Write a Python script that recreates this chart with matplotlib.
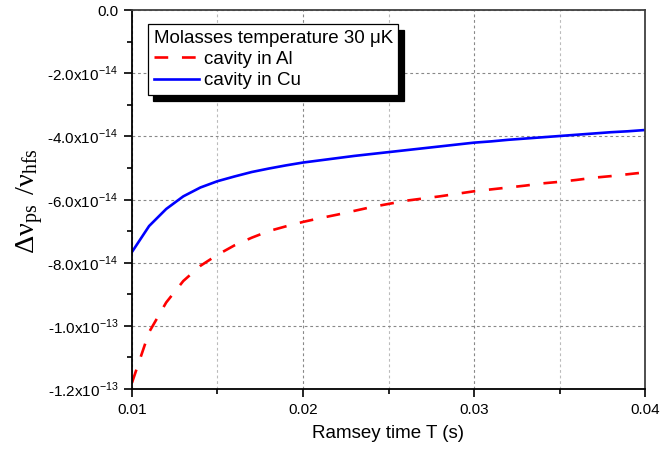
import matplotlib
matplotlib.use('Agg')
import math
import matplotlib.pyplot as plt
from matplotlib.ticker import FixedLocator, FuncFormatter

plt.rcParams['font.family'] = ['Liberation Sans', 'DejaVu Sans']

# Ramsey time T (s)
T = [0.010, 0.011, 0.012, 0.013, 0.014, 0.015, 0.016, 0.017, 0.018, 0.019,
     0.020, 0.021, 0.022, 0.023, 0.024, 0.025, 0.026, 0.027, 0.028, 0.029,
     0.030, 0.031, 0.032, 0.033, 0.034, 0.035, 0.036, 0.037, 0.038, 0.039,
     0.040]

# fractional shift, units of 1e-14
shift_al = [-11.8, -10.2, -9.26, -8.58, -8.10, -7.75, -7.45, -7.21, -7.00, -6.85,
            -6.71, -6.59, -6.48, -6.36, -6.24, -6.14, -6.04, -5.97, -5.90, -5.82,
            -5.74, -5.68, -5.62, -5.56, -5.49, -5.44, -5.38, -5.31, -5.26, -5.20,
            -5.14]
shift_cu = [-7.66, -6.84, -6.30, -5.90, -5.62, -5.42, -5.27, -5.13, -5.02, -4.92,
            -4.83, -4.76, -4.69, -4.62, -4.56, -4.50, -4.44, -4.38, -4.32, -4.26,
            -4.20, -4.16, -4.11, -4.07, -4.03, -3.99, -3.95, -3.91, -3.87, -3.84,
            -3.80]

x_major = [0.01, 0.02, 0.03, 0.04]
x_minor = [0.015, 0.025, 0.035]
y_major = [-12e-14, -10e-14, -8e-14, -6e-14, -4e-14, -2e-14, 0.0]
y_minor = [-11e-14, -9e-14, -7e-14, -5e-14, -3e-14, -1e-14]

y_al = [v * 1e-14 for v in shift_al]
y_cu = [v * 1e-14 for v in shift_cu]

fig = plt.figure(figsize=(6.6, 4.51), dpi=100)
ax = fig.add_axes([132 / 660, 1 - 389 / 451, 513 / 660, 379 / 451])

ax.plot(T, y_al, color='#ff0000', lw=1.9, dashes=(5.2, 5.2), label='cavity in Al')
ax.plot(T, y_cu, color='#0000ff', lw=1.9, label='cavity in Cu')

ax.set_xlim(0.01, 0.04)
ax.set_ylim(-1.2e-13, 0)

ax.xaxis.set_major_locator(FixedLocator(x_major))
ax.xaxis.set_minor_locator(FixedLocator(x_minor))
ax.yaxis.set_major_locator(FixedLocator(y_major))
ax.yaxis.set_minor_locator(FixedLocator(y_minor))


def yfmt(v, pos):
    if abs(v) < 1e-20:
        return '0.0'
    exp = math.floor(math.log10(abs(v)) + 1e-9)
    mant = v / 10 ** exp
    return '%.1fx10$^{\\mathregular{%d}}$' % (mant, exp)


ax.yaxis.set_major_formatter(FuncFormatter(yfmt))
ax.xaxis.set_major_formatter(FuncFormatter(lambda v, p: '%.2f' % v))

ax.tick_params(which='both', direction='out', top=False, right=False,
               labelsize=11, width=1.2, color='black')
ax.tick_params(which='major', length=6, pad=4)
ax.tick_params(which='minor', length=3.6)

for s in ['left', 'bottom']:
    ax.spines[s].set_linewidth(1.3)
    ax.spines[s].set_color('black')
for s in ['top', 'right']:
    ax.spines[s].set_linewidth(1.3)
    ax.spines[s].set_color('#404040')

ax.grid(True, which='major', axis='both', color='#888888', ls=(0, (2.5, 2.5)), lw=0.8)
ax.grid(True, which='minor', axis='x', color='#bbbbbb', ls=(0, (2.5, 2.5)), lw=0.8)
ax.set_axisbelow(True)

ax.set_xlabel('Ramsey time T (s)', fontsize=13.5, labelpad=6)
yl = ax.set_ylabel('$\\mathregular{\u0394\u03bd_{ps}\\ /\u03bd_{hfs}}$',
                   fontsize=20.5, family='Liberation Serif')
ax.yaxis.set_label_coords(-0.168, 0.495)

leg = ax.legend(loc='upper left', bbox_to_anchor=(0.031, 0.963), borderaxespad=0,
                title='Molasses temperature 30 \u03bcK', title_fontsize=13.5,
                fontsize=13.5, fancybox=False, framealpha=1, edgecolor='black',
                alignment='left', handlelength=2.4, handletextpad=0.3,
                labelspacing=0.22, borderpad=0.3,
                shadow={'ox': 4, 'oy': -4.5, 'color': 'black', 'alpha': 1})
leg.get_frame().set_linewidth(0.9)

fig.savefig('out.png', dpi=100)
